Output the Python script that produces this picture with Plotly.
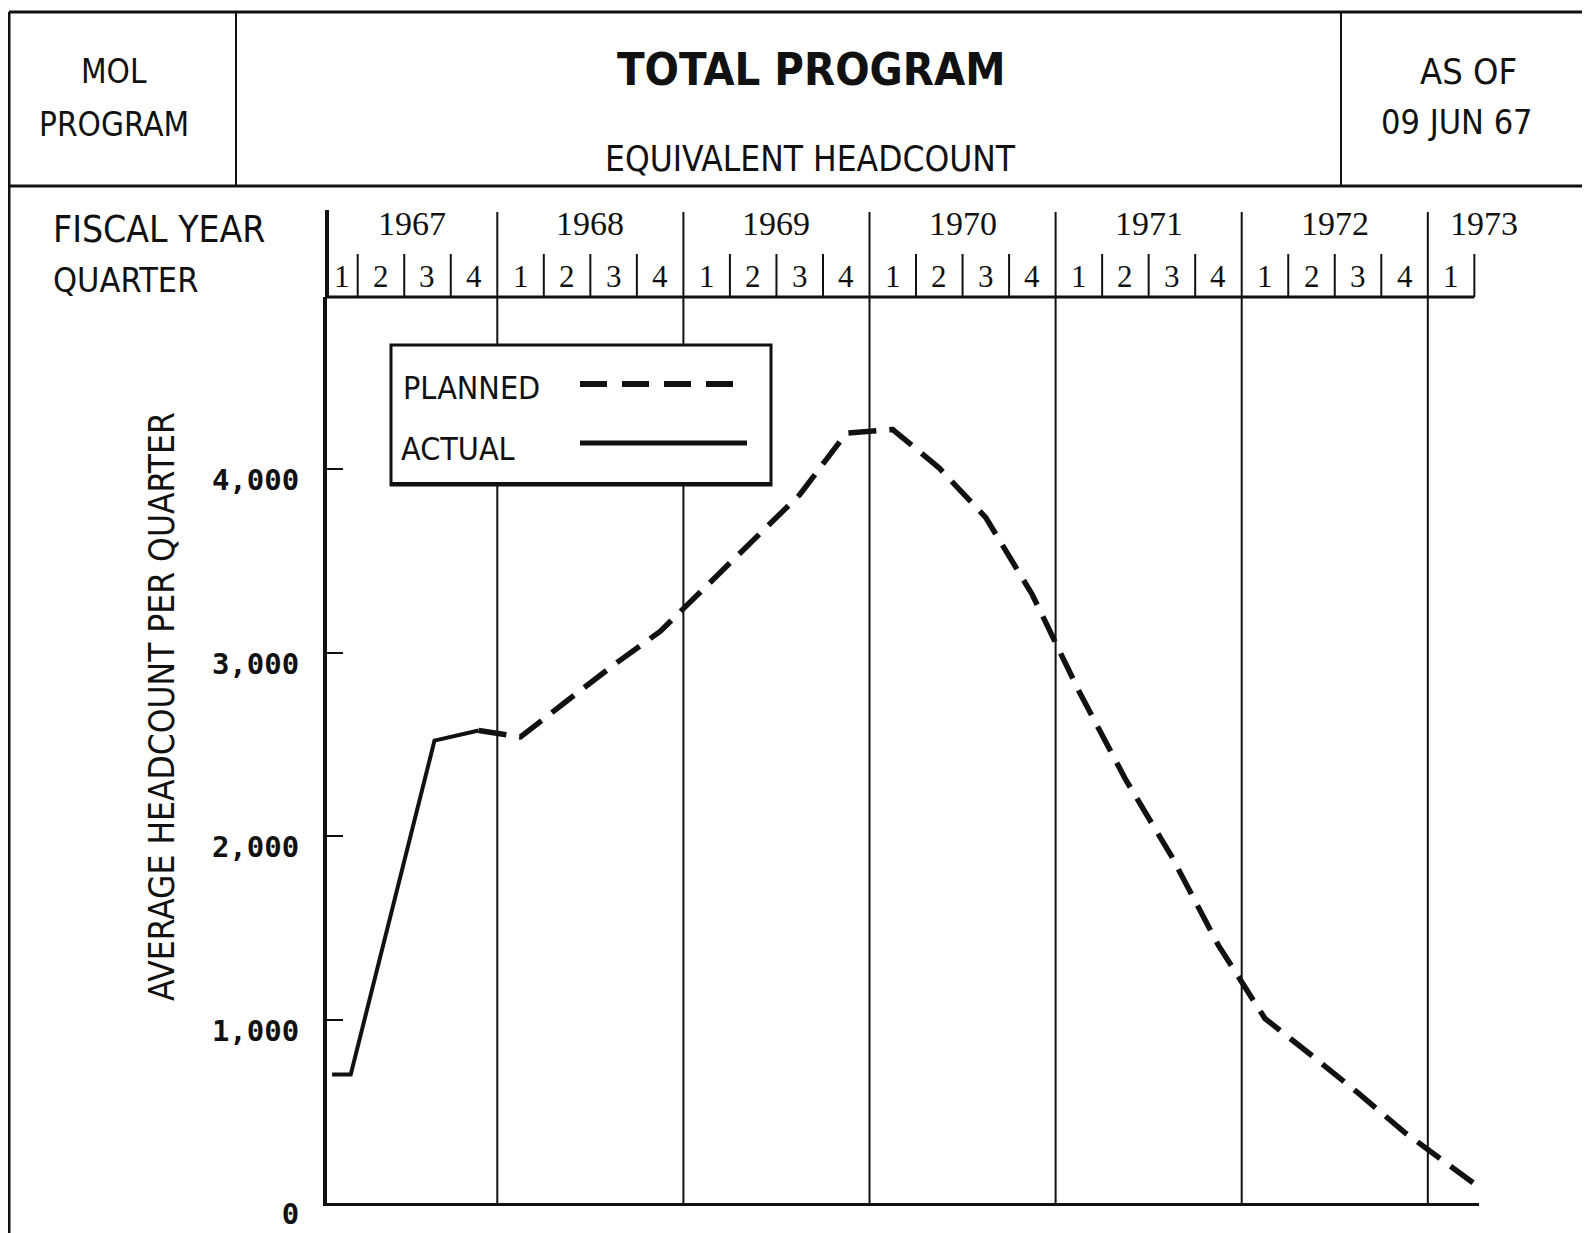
import plotly.graph_objects as go

# ---------------- data ----------------
fiscal_years = ["1967", "1968", "1969", "1970", "1971", "1972", "1973"]
quarters_in_year = [4, 4, 4, 4, 4, 4, 1]
y_tick_values = [0, 1000, 2000, 3000, 4000]
y_tick_text = ["0", "1,000", "2,000", "3,000", "4,000"]

# position in quarters from start of FY1967 (quarter centre = index + 0.5)
actual_quarter = [0.45, 0.85, 2.65, 3.6]
actual_values = [700, 700, 2520, 2575]

planned_quarter = [3.6, 4.5, 5.5, 6.5, 7.5, 8.5, 9.5, 10.5, 11.5, 12.5, 13.5,
                   14.5, 15.5, 16.5, 17.5, 18.5, 19.5, 20.5, 21.5, 22.5, 23.5,
                   24.5, 25.0]
planned_values = [2575, 2540, 2737, 2932, 3115, 3366, 3610, 3860, 4195, 4215,
                  4005, 3735, 3315, 2790, 2310, 1886, 1404, 1005, 805, 600,
                  385, 200, 105]

# ---------------- layout helpers (page pixel coords; body margin = 8px) ----------------
OFF = 8
W, H = 1590 - OFF, 1233 - OFF
PLOT_L, PLOT_R, PLOT_T, PLOT_B = 327, 1479, 297, 1203   # page coords
L = PLOT_L - OFF
R = W - (PLOT_R - OFF)
T = PLOT_T - OFF
B = H - (PLOT_B - OFF)
XR = [0.34, 25.1]
YR = [0, (PLOT_B - PLOT_T) / 183.5 * 1000]

def px(xp):
    return (xp - PLOT_L) / (PLOT_R - PLOT_L)

def py(yp):
    return (PLOT_B - yp) / (PLOT_B - PLOT_T)

def qx(q):
    return (q - XR[0]) / (XR[1] - XR[0])

SANS = "Liberation Sans Narrow, DejaVu Sans Condensed, Arial Narrow, sans-serif"
SERIF = "Liberation Serif, DejaVu Serif, serif"
MONO = "DejaVu Sans Mono, Liberation Mono, monospace"
INK = "#111111"

fig = go.Figure()
fig.add_trace(go.Scatter(x=actual_quarter, y=actual_values, mode="lines",
                         name="ACTUAL", line=dict(color=INK, width=4),
                         showlegend=False))
fig.add_trace(go.Scatter(x=planned_quarter, y=planned_values, mode="lines",
                         name="PLANNED",
                         line=dict(color=INK, width=5.5, dash="28px,13px"),
                         showlegend=False))

shapes = []
ann = []

def line(x0, y0, x1, y1, w=2, layer="above", dash=None):
    d = dict(type="line", xref="paper", yref="paper", x0=x0, y0=y0, x1=x1, y1=y1,
             line=dict(color=INK, width=w), layer=layer)
    if dash:
        d["line"]["dash"] = dash
    shapes.append(d)

def text(s, x, y, size, family=SANS, bold=False, xanchor="center", angle=0):
    if bold:
        s = "<b>" + s + "</b>"
    ann.append(dict(text=s, x=x, y=y, xref="paper", yref="paper", showarrow=False,
                    xanchor=xanchor, yanchor="middle", textangle=angle,
                    font=dict(family=family, size=size, color=INK)))

# ---- top title box ----
line(px(9), py(12), px(1590), py(12), w=3)
line(px(9), py(186), px(1590), py(186), w=3)
line(px(9), py(12), px(9), py(1233), w=3)
line(px(236), py(12), px(236), py(186), w=2)
line(px(1341), py(12), px(1341), py(186), w=2)

text("MOL", px(114), py(71), 33)
text("PROGRAM", px(114), py(124), 33)
text("TOTAL PROGRAM", px(811), py(69), 45, bold=True)
text("EQUIVALENT HEADCOUNT", px(810), py(159), 35)
text("AS OF", px(1468), py(71), 36)
text("09 JUN 67", px(1457), py(122), 34)

text("FISCAL YEAR", px(51), py(229), 37, xanchor="left")
text("QUARTER", px(51), py(280), 34, xanchor="left")

# ---- fiscal-year / quarter header ----
q = 0
q_end = sum(quarters_in_year)
line(0, 1, qx(q_end), 1, w=3)
line(0, 1, 0, py(210), w=4)
for fy, nq in zip(fiscal_years, quarters_in_year):
    start = q
    if q > 0:
        line(qx(q), 0, qx(q), py(212), w=2, layer="below")
    if nq == 4:
        cx = (max(qx(start), 0) + qx(start + 4)) / 2
    else:
        cx = qx(start + 1.2)
    text(fy, cx, py(223), 34, family=SERIF)
    for k in range(nq):
        a = max(qx(q + k), 0)
        b = qx(q + k + 1)
        if k > 0:
            line(a, py(254), a, 1, w=2)
        text(str(k + 1), (a + b) / 2, py(276), 31, family=SERIF)
    q += nq
line(qx(q_end), py(254), qx(q_end), 1, w=2)

# ---- legend box ----
shapes.append(dict(type="rect", xref="paper", yref="paper", x0=px(391), x1=px(771),
                   y0=py(485), y1=py(345), fillcolor="white",
                   line=dict(color=INK, width=3), layer="above"))
line(px(391), py(484), px(771), py(484), w=4)
text("PLANNED", px(401), py(388), 32, xanchor="left")
text("ACTUAL", px(399), py(449), 32, xanchor="left")
line(px(580), py(384), px(745), py(384), w=6, dash="27px,15px")
line(px(580), py(443), px(747), py(443), w=5)

# ---- y axis title ----
text("AVERAGE HEADCOUNT PER QUARTER", px(162), py(707), 35, angle=-90)

fig.update_layout(
    width=W, height=H,
    margin=dict(l=L, r=R, t=T, b=B, pad=0, autoexpand=False),
    paper_bgcolor="white", plot_bgcolor="white",
    shapes=shapes, annotations=ann,
    xaxis=dict(range=XR, showgrid=False, zeroline=False, showticklabels=False,
               ticks="", showline=True, linecolor=INK, linewidth=3,
               automargin=False, fixedrange=True),
    yaxis=dict(range=YR, showgrid=False, zeroline=False, showline=True,
               linecolor=INK, linewidth=4, ticks="inside", ticklen=16,
               tickwidth=2, tickcolor=INK, tickvals=y_tick_values,
               ticktext=y_tick_text, ticklabelshift=11, ticklabelstandoff=18,
               tickfont=dict(family=MONO, size=29, color=INK, weight="bold"),
               automargin=False, fixedrange=True),
)

fig.write_html("out.html")
